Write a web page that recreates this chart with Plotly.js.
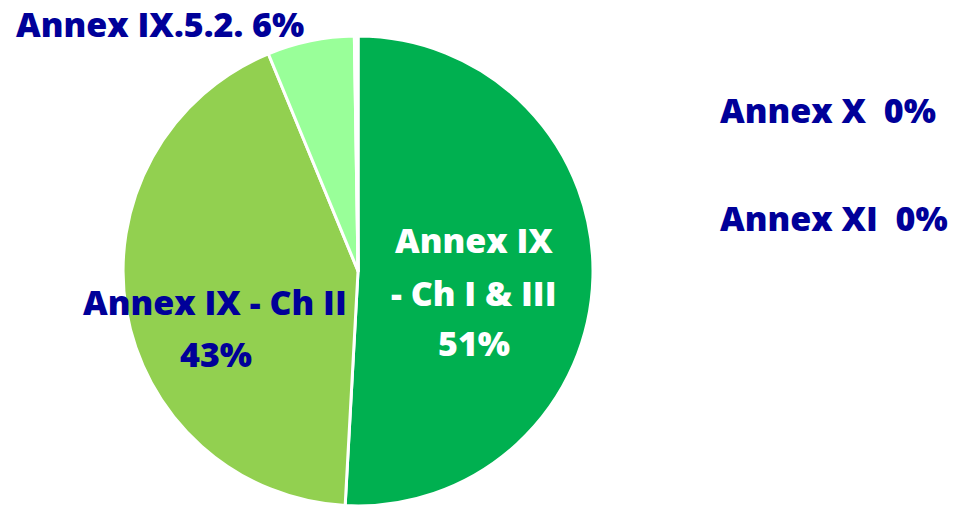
<!DOCTYPE html>
<html>
<head>
<meta charset="utf-8">
<script src="https://cdn.plot.ly/plotly-3.0.1.min.js"></script>
<style>html,body{margin:0;padding:0;background:#fff;}#chart{width:954px;height:506px;}</style>
</head>
<body>
<div id="chart"></div>
<script>
var categories = ["Annex IX - Ch I & III", "Annex IX - Ch II", "Annex IX.5.2.", "Annex X", "Annex XI"];
var values = [51, 43, 6, 0.15, 0.1];
var pctLabels = ["51%", "43%", "6%", "0%", "0%"];
var colors = ["#00B050", "#92D050", "#99FF99", "#FFFF66", "#FFFF99"];

var navy = "#000099";
var fontFam = "'Open Sans', Lato, sans-serif";

var trace = {
  type: "pie",
  labels: categories,
  values: values,
  sort: false,
  direction: "clockwise",
  rotation: 0,
  textinfo: "none",
  hoverinfo: "label+percent",
  marker: {colors: colors, line: {color: "#ffffff", width: 3}},
  domain: {x: [0.129, 0.6216], y: [0, 0.929]},
  showlegend: false
};

function ann(text, x, y, color, xanchor) {
  return {text: text, x: x / 954, y: 1 - y / 506, xref: "paper", yref: "paper",
    xanchor: xanchor || "center", yanchor: "middle", showarrow: false,
    font: {family: fontFam, size: 34, color: color, weight: 800}};
}

var annotations = [
  ann(categories[2] + " " + pctLabels[2], 160, 24, navy),
  ann(categories[3] + "  " + pctLabels[3], 828, 110, navy),
  ann(categories[4] + "  " + pctLabels[4], 834, 218, navy),
  ann(categories[1], 215, 302, navy),
  ann(pctLabels[1], 216, 354, navy),
  ann("Annex IX", 474, 240, "#ffffff"),
  ann("- Ch I &amp; III", 473, 293, "#ffffff"),
  ann(pctLabels[0], 474, 343, "#ffffff")
];

var layout = {
  width: 954, height: 506,
  margin: {l: 0, r: 0, t: 0, b: 0},
  paper_bgcolor: "#ffffff",
  annotations: annotations
};

Plotly.newPlot("chart", [trace], layout, {displayModeBar: false, staticPlot: true});
</script>
</body>
</html>
